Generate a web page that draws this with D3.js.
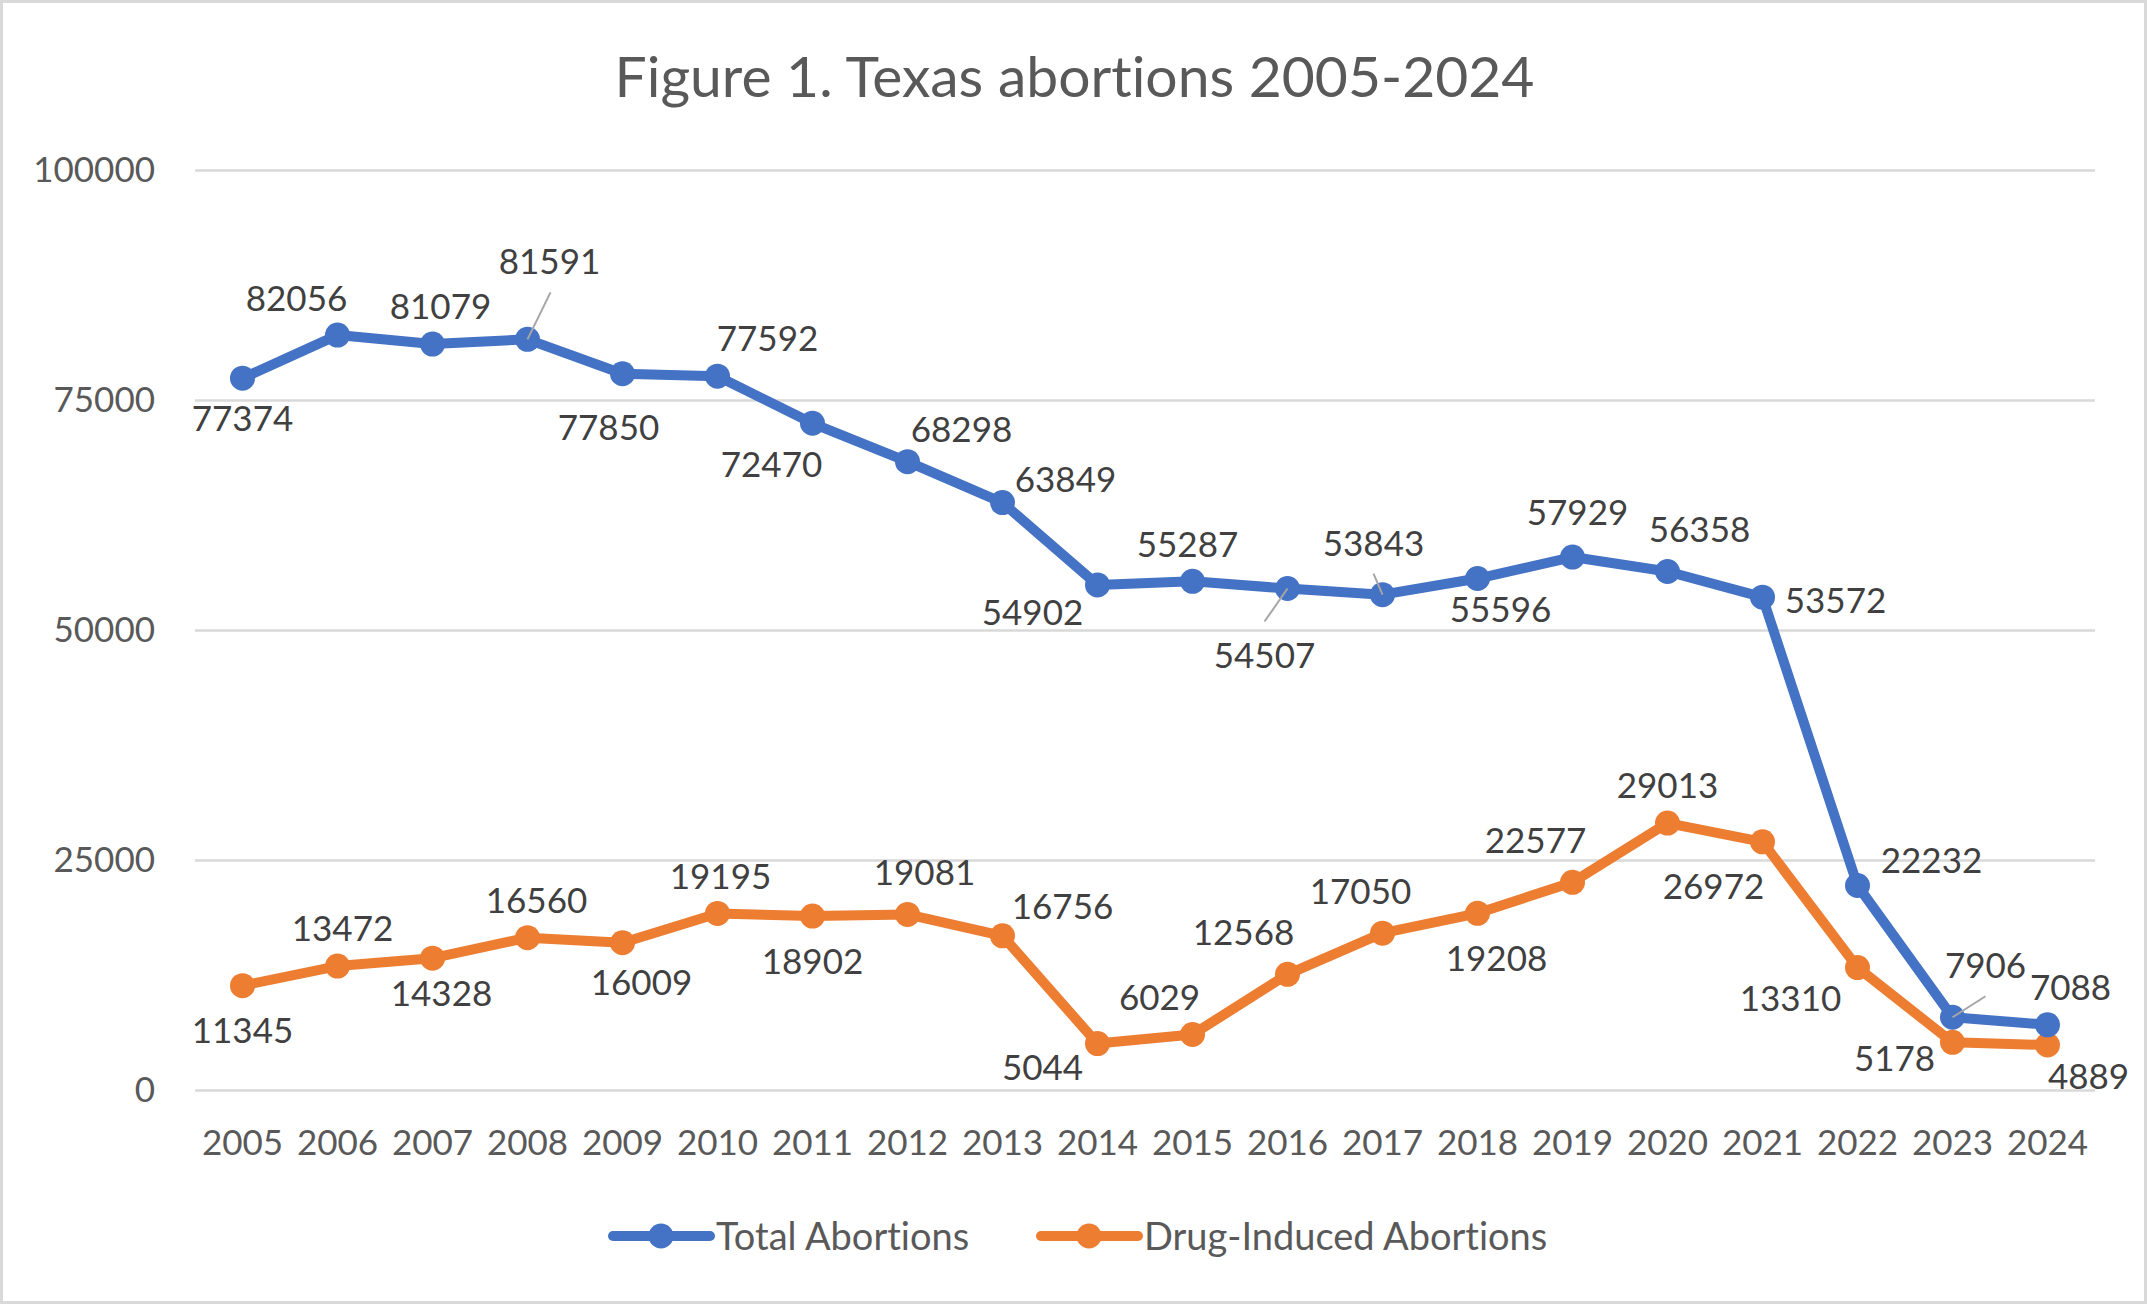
<!DOCTYPE html>
<html>
<head>
<meta charset="utf-8">
<script src="https://cdn.jsdelivr.net/npm/d3@7"></script>
<style>
  html, body { margin: 0; padding: 0; background: #fff; }
  svg { display: block; font-family: "Lato", "Open Sans", sans-serif; font-variant-ligatures: none; font-feature-settings: "liga" 0, "clig" 0; }
</style>
</head>
<body>
<svg id="chart" width="2147" height="1304"></svg>
<script>
// ---- data ----
const years = ["2005","2006","2007","2008","2009","2010","2011","2012","2013","2014","2015","2016","2017","2018","2019","2020","2021","2022","2023","2024"];
const totalAbortions = [77374,82056,81079,81591,77850,77592,72470,68298,63849,54902,55287,54507,53843,55596,57929,56358,53572,22232,7906,7088];
const drugInduced = [11345,13472,14328,16560,16009,19195,18902,19081,16756,5044,6029,12568,17050,19208,22577,29013,26972,13310,5178,4889];
const yTicks = [0,25000,50000,75000,100000];
const seriesNames = ["Total Abortions","Drug-Induced Abortions"];
const titleText = "Figure 1. Texas abortions 2005-2024";

// ---- label placement (pixel offsets from each point) ----
const totalLabelOffsets = [[0,40],[-41,-37],[8,-38],[22,-78],[-14,54],[50,-38],[-41,41],[54,-32],[63,-23],[-65,27],[-5,-37],[-23,67],[-9,-51],[23,31],[5,-45],[32,-42],[73,3],[74,-25],[33,-52],[23,-37]];
const drugLabelOffsets = [[0,45],[5,-38],[9,35],[9,-37],[19,40],[3,-37],[0,45],[17,-42],[60,-29],[-55,24],[-33,-37],[-44,-42],[-22,-42],[19,45],[-37,-42],[0,-38],[-49,45],[-67,31],[-58,16],[41,31]];
// leader lines: [index, startDx, startDy] (line goes from start to the point)
const totalLeaders = [[3,23,-47],[11,-23,33],[12,-9,-21],[18,33,-21]];

const colors = ["#4472C4", "#ED7D31"];

const svg = d3.select("#chart");
const W = 2147, H = 1304;
const plot = {left: 195, right: 2095, top: 170, bottom: 1090};

svg.append("rect").attr("x",0).attr("y",0).attr("width",W).attr("height",H).attr("fill","#fff");
svg.append("rect").attr("x",1.5).attr("y",1.5).attr("width",W-3).attr("height",H-3)
  .attr("fill","none").attr("stroke","#d9d9d9").attr("stroke-width",3);

const x = d3.scaleBand().domain(years).range([plot.left, plot.right]);
const cx = d => x(d) + x.bandwidth()/2;
const y = d3.scaleLinear().domain([0,100000]).range([plot.bottom, plot.top]);

// title
svg.append("text").attr("x", (612+1537)/2).attr("y", 97)
  .attr("text-anchor","middle").attr("fill","#595959")
  .style("font-size","57px").text(titleText);

// y axis + gridlines
const yAxis = svg.append("g").attr("transform",`translate(${plot.left},0)`)
  .call(d3.axisLeft(y).tickValues(yTicks).tickFormat(d3.format("d"))
    .tickSize(-(plot.right-plot.left)).tickPadding(40));
yAxis.select(".domain").remove();
yAxis.selectAll(".tick line").attr("stroke","#d9d9d9").attr("stroke-width",2.5);
yAxis.selectAll(".tick text").attr("fill","#595959").style("font-size","35px").style("font-family","Lato");

// x axis
const xAxis = svg.append("g").attr("transform",`translate(0,${plot.bottom})`)
  .call(d3.axisBottom(x).tickSize(0).tickPadding(40));
xAxis.select(".domain").remove();
xAxis.selectAll(".tick text").attr("fill","#595959").style("font-size","35px").style("font-family","Lato");

const series = [
  {name: seriesNames[0], values: totalAbortions, color: colors[0], offsets: totalLabelOffsets},
  {name: seriesNames[1], values: drugInduced, color: colors[1], offsets: drugLabelOffsets}
];

const line = d3.line().x((d,i) => cx(years[i])).y(d => y(d));

// draw drug series first (underneath), then total
[series[1], series[0]].forEach(s => {
  svg.append("path").datum(s.values).attr("d", line)
    .attr("fill","none").attr("stroke", s.color).attr("stroke-width",10)
    .attr("stroke-linejoin","round").attr("stroke-linecap","round");
  svg.append("g").selectAll("circle").data(s.values).join("circle")
    .attr("cx",(d,i)=>cx(years[i])).attr("cy",d=>y(d)).attr("r",12.5)
    .attr("fill", s.color);
});

// leader lines
svg.append("g").selectAll("line").data(totalLeaders).join("line")
  .attr("x1", d => cx(years[d[0]]) + d[1])
  .attr("y1", d => y(totalAbortions[d[0]]) + d[2])
  .attr("x2", d => cx(years[d[0]]))
  .attr("y2", d => y(totalAbortions[d[0]]))
  .attr("stroke","#a6a6a6").attr("stroke-width",2);

// data labels
series.forEach(s => {
  svg.append("g").selectAll("text").data(s.values).join("text")
    .attr("x",(d,i)=>cx(years[i]) + s.offsets[i][0])
    .attr("y",(d,i)=>y(d) + s.offsets[i][1])
    .attr("dy","0.36em")
    .attr("text-anchor","middle").attr("fill","#404040")
    .style("font-size","35px")
    .text(d => d);
});

// legend
const legendItems = [
  {name: seriesNames[0], color: colors[0], x0: 613},
  {name: seriesNames[1], color: colors[1], x0: 1041}
];
const ly = 1236;
legendItems.forEach(it => {
  const g = svg.append("g");
  g.append("line").attr("x1", it.x0).attr("x2", it.x0+97).attr("y1", ly).attr("y2", ly)
    .attr("stroke", it.color).attr("stroke-width",10).attr("stroke-linecap","round");
  g.append("circle").attr("cx", it.x0+48).attr("cy", ly).attr("r",12.5).attr("fill", it.color);
  g.append("text").attr("x", it.x0+103).attr("y", ly).attr("dy","0.36em")
    .attr("fill","#595959").style("font-size","38px").text(it.name);
});
</script>
</body>
</html>
